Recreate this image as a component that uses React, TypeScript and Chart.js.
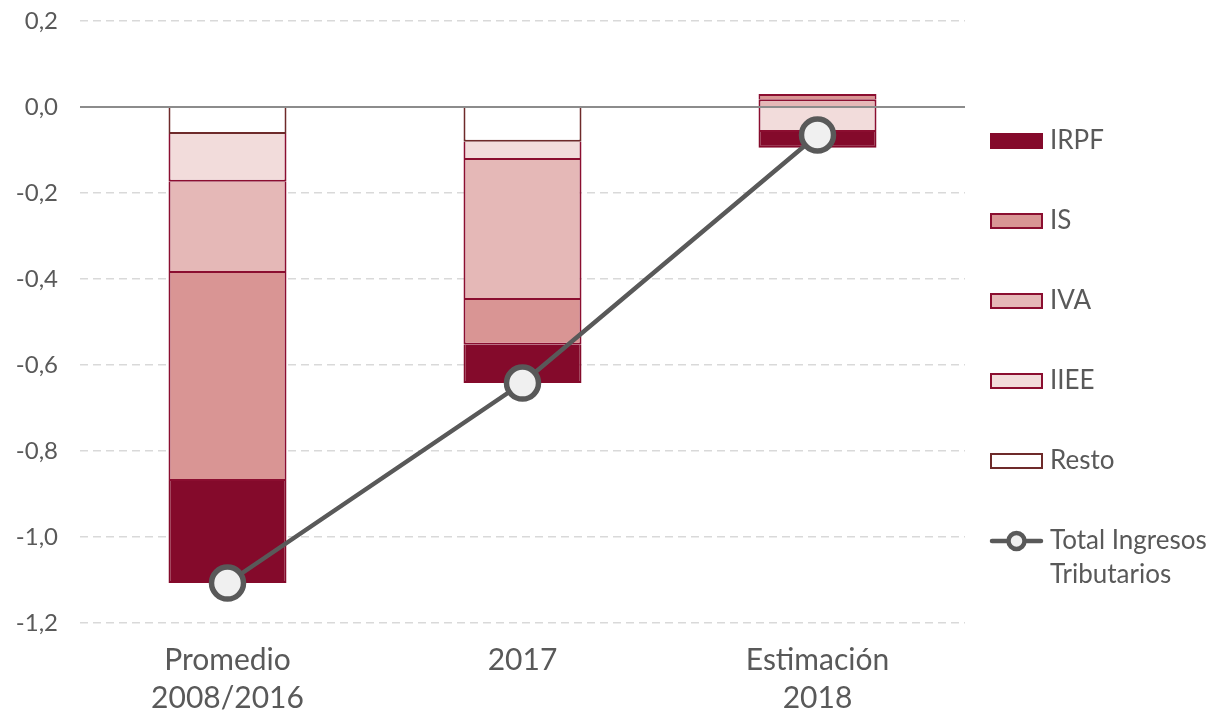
import React, { useEffect, useRef } from 'react';
import { Chart, registerables } from 'chart.js';

Chart.register(...registerables);

// ---- data ----
const categories: (string | string[])[] = [['Promedio', '2008/2016'], '2017', ['Estimación', '2018']];
const resto: (number | null)[] = [-0.063, -0.081, null];
const iiee: number[] = [-0.111, -0.042, -0.058];
const iva: number[] = [-0.212, -0.326, 0.018];
const isValues: number[] = [-0.484, -0.104, 0.012];
const irpf: number[] = [-0.237, -0.089, -0.037];
const total: number[] = [-1.107, -0.642, -0.065];
const yMin = -1.2;
const yMax = 0.2;
const yStep = 0.2;
const legendLabels: (string | string[])[] = ['IRPF', 'IS', 'IVA', 'IIEE', 'Resto', ['Total Ingresos', 'Tributarios']];

// ---- styles ----
const FONT = 'Lato, "Open Sans", sans-serif';
const TEXT = '#595959';
const C_IRPF = '#840a2b';
const C_IS = '#d99594';
const C_IVA = '#e5b8b7';
const C_IIEE = '#f2dcdb';
const C_RESTO = '#ffffff';
const B_RED = '#8b0e30';
const B_RESTO = '#6e2a2a';
const LINE = '#595959';

const legendBoxes = [
  { fill: C_IRPF, border: C_IRPF },
  { fill: C_IS, border: B_RED },
  { fill: C_IVA, border: B_RED },
  { fill: C_IIEE, border: B_RED },
  { fill: C_RESTO, border: B_RESTO },
];

const zeroLinePlugin = {
  id: 'zeroLine',
  afterDatasetsDraw(chart: any) {
    const { ctx, chartArea, scales } = chart;
    const y = scales.y.getPixelForValue(0);
    ctx.save();
    ctx.strokeStyle = '#8c8c8c';
    ctx.lineWidth = 2;
    ctx.beginPath();
    ctx.moveTo(chartArea.left, y);
    ctx.lineTo(chartArea.right, y);
    ctx.stroke();
    ctx.restore();
  },
};

const legendPlugin = {
  id: 'sideLegend',
  afterDraw(chart: any) {
    const ctx = chart.ctx as CanvasRenderingContext2D;
    const x0 = 990;
    const boxW = 53;
    const boxH = 16;
    const textX = 1050;
    const y0 = 141;
    const step = 80;
    ctx.save();
    ctx.font = `26px ${FONT}`;
    ctx.textBaseline = 'middle';
    ctx.textAlign = 'left';
    legendLabels.forEach((lab, i) => {
      const cy = y0 + i * step;
      if (i < legendBoxes.length) {
        const b = legendBoxes[i];
        ctx.fillStyle = b.fill;
        ctx.fillRect(x0, cy - boxH / 2, boxW, boxH);
        ctx.strokeStyle = b.border;
        ctx.lineWidth = 2;
        ctx.strokeRect(x0 + 1, cy - boxH / 2 + 1, boxW - 2, boxH - 2);
      } else {
        ctx.strokeStyle = LINE;
        ctx.lineWidth = 4.5;
        ctx.lineCap = 'round';
        ctx.beginPath();
        ctx.moveTo(x0 + 2, cy);
        ctx.lineTo(x0 + boxW - 2, cy);
        ctx.stroke();
        ctx.beginPath();
        ctx.arc(x0 + boxW / 2, cy, 8, 0, Math.PI * 2);
        ctx.fillStyle = '#f0f0f0';
        ctx.fill();
        ctx.lineWidth = 4.5;
        ctx.stroke();
      }
      ctx.fillStyle = TEXT;
      const lines = Array.isArray(lab) ? lab : [lab];
      lines.forEach((t, j) => ctx.fillText(t, textX, cy + j * 34));
    });
    ctx.restore();
  },
};

export default function App() {
  const ref = useRef<HTMLCanvasElement>(null);

  useEffect(() => {
    if (!ref.current) return;
    const barCommon = {
      type: 'bar' as const,
      borderWidth: 2,
      stack: 'taxes',
      order: 1,
    };
    const chart = new Chart(ref.current, {
      type: 'bar',
      data: {
        labels: categories as any,
        datasets: [
          { ...barCommon, label: 'Resto', data: resto, backgroundColor: C_RESTO, borderColor: B_RESTO },
          { ...barCommon, label: 'IIEE', data: iiee, backgroundColor: C_IIEE, borderColor: B_RED },
          { ...barCommon, label: 'IVA', data: iva, backgroundColor: C_IVA, borderColor: B_RED },
          { ...barCommon, label: 'IS', data: isValues, backgroundColor: C_IS, borderColor: B_RED },
          { ...barCommon, label: 'IRPF', data: irpf, backgroundColor: C_IRPF, borderColor: C_IRPF },
          {
            type: 'line' as const,
            label: 'Total Ingresos Tributarios',
            data: total,
            stack: 'total',
            order: -1,
            borderColor: LINE,
            borderWidth: 4.5,
            pointRadius: 16,
            pointHoverRadius: 16,
            pointBorderWidth: 5.5,
            pointBackgroundColor: '#f0f0f0',
            pointBorderColor: LINE,
            tension: 0,
          } as any,
        ],
      },
      options: {
        animation: false,
        responsive: false,
        maintainAspectRatio: false,
        layout: { autoPadding: false, padding: { top: 21, right: 249, bottom: 0, left: 0 } },
        plugins: {
          legend: { display: false },
          tooltip: { enabled: false },
        },
        datasets: {
          bar: { categoryPercentage: 1, barPercentage: 0.4 },
        },
        scales: {
          x: {
            stacked: true,
            grid: { display: false, drawTicks: false },
            border: { display: false },
            ticks: {
              color: TEXT,
              font: { family: FONT, size: 30, lineHeight: 1.27 },
              padding: 18,
              maxRotation: 0,
              autoSkip: false,
            },
            afterFit(scale: any) {
              scale.height = 91;
            },
          },
          y: {
            stacked: true,
            min: yMin,
            max: yMax,
            grid: {
              drawTicks: true,
              tickLength: 22,
              tickColor: 'rgba(0,0,0,0)',
              lineWidth: 1.5,
              color: (c: any) => (Math.abs(c.tick?.value ?? 1) < 1e-9 ? 'rgba(0,0,0,0)' : '#d9d9d9'),
            },
            border: { display: false, dash: [8, 5] },
            ticks: {
              stepSize: yStep,
              color: TEXT,
              font: { family: FONT, size: 24 },
              padding: 0,
              callback: (v: any) => {
                const n = Math.abs(v) < 1e-9 ? 0 : Number(v);
                return n.toFixed(1).replace('.', ',');
              },
            },
            afterFit(scale: any) {
              scale.width = 80;
            },
          },
        },
      },
      plugins: [zeroLinePlugin, legendPlugin],
    });
    return () => chart.destroy();
  }, []);

  return (
    <div style={{ position: 'fixed', left: 0, top: 0, width: 1214, height: 714, background: '#fff' }}>
      <canvas ref={ref} width={1214} height={714} style={{ width: 1214, height: 714, display: 'block' }} />
    </div>
  );
}
